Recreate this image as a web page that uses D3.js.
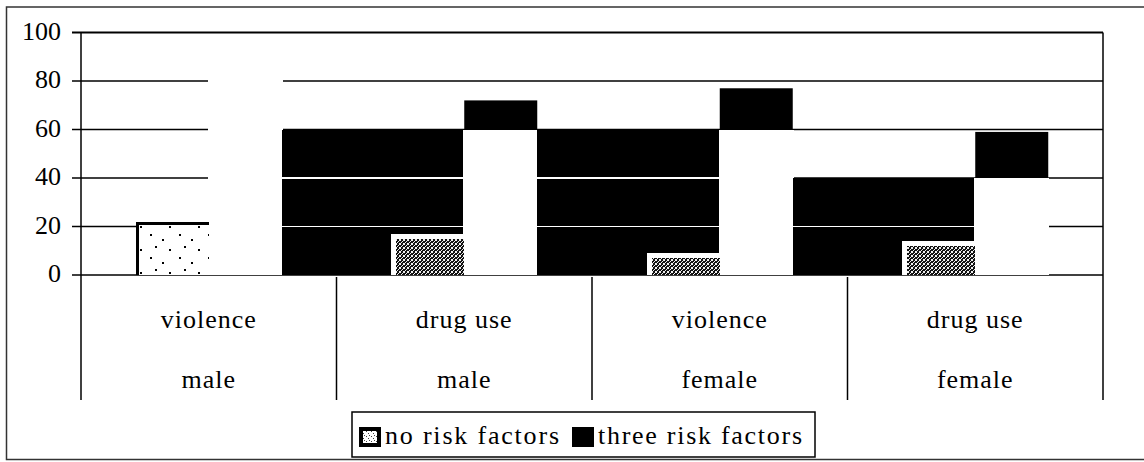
<!DOCTYPE html>
<html>
<head>
<meta charset="utf-8">
<script src="https://cdn.jsdelivr.net/npm/d3@7/dist/d3.min.js"></script>
</head>
<body style="margin:0">
<svg id="chart" width="1144" height="462"></svg>
<script>
// chart data
var risk_type = ['violence', 'drug use', 'violence', 'drug use'];
var sex = ['male', 'male', 'female', 'female'];
var series_names = ['no risk factors', 'three risk factors'];
var no_risk = [22, 17, 9, 14];
var three_risk = [89, 72, 77, 59];
// the scan inverted a block of each group up to this level
var scan_invert_level = [89, 60, 60, 40];
var y_ticks = [0, 20, 40, 60, 80, 100];

var plot_left = 81,
  plot_right = 1103,
  plot_top = 32.5,
  plot_bottom = 275,
  axis_bottom = 400,
  font_name = 'Liberation Serif';

var svg = d3.select('#chart');

// patterns for the dotted "no risk" fill
var defs = svg.append('defs');
function add_pattern(id, w, h, bg, fg, dots, size) {
  var p = defs
    .append('pattern')
    .attr('id', id)
    .attr('patternUnits', 'userSpaceOnUse')
    .attr('width', w)
    .attr('height', h);
  p.append('rect').attr('width', w).attr('height', h).attr('fill', bg);
  dots.forEach(function(q) {
    p.append('rect').attr('x', q[0]).attr('y', q[1]).attr('width', size).attr('height', size).attr('fill', fg);
  });
}
add_pattern('dense', 4, 4, '#111', '#eee', [[0, 0], [2, 1], [1, 2], [3, 3], [3, 0], [0, 3]], 1);
add_pattern('sparse', 29, 23, '#fff', '#000', [[5, 4], [17, 9], [10, 16], [24, 19]], 2);
add_pattern('light', 5, 5, '#fff', '#444', [[1, 1], [3, 3], [4, 0]], 1);

// outer frame
svg
  .append('rect')
  .attr('x', 6.5)
  .attr('y', 7)
  .attr('width', 1200)
  .attr('height', 452.5)
  .attr('fill', 'none')
  .attr('stroke', '#333')
  .attr('stroke-width', 1.5);

// scales
var x0 = d3
  .scaleBand()
  .domain(d3.range(risk_type.length))
  .range([plot_left, plot_right])
  .padding(0);

var x1 = d3
  .scaleBand()
  .domain(series_names)
  .range([0, x0.bandwidth()])
  .paddingInner(0)
  .paddingOuter(0.75);

var y = d3
  .scaleLinear()
  .domain([0, 100])
  .range([plot_bottom, plot_top]);

function three_left(i) {
  return x0(i) + x1(series_names[1]);
}
function three_right(i) {
  return three_left(i) + x1.bandwidth();
}
function no_left(i) {
  return x0(i) + x1(series_names[0]);
}
function invert_x0(i) {
  return i === 0 ? three_left(0) : three_right(i - 1);
}

// gridlines
svg
  .append('g')
  .selectAll('line')
  .data(y_ticks)
  .enter()
  .append('line')
  .attr('x1', plot_left - 9)
  .attr('x2', plot_right)
  .attr('y1', function(d) { return y(d); })
  .attr('y2', function(d) { return y(d); })
  .attr('stroke', '#000')
  .attr('stroke-width', function(d) { return d === 100 ? 2 : 1.5; });

// three risk factor bars
svg
  .append('g')
  .selectAll('rect')
  .data(three_risk)
  .enter()
  .append('rect')
  .attr('x', function(d, i) { return three_left(i); })
  .attr('width', x1.bandwidth())
  .attr('y', function(d) { return y(d); })
  .attr('height', function(d) { return y(0) - y(d); })
  .attr('fill', '#000');

// scan inversion: black block, white gridlines, white bar part
var inv = svg.append('g').attr('shape-rendering', 'crispEdges');
scan_invert_level.forEach(function(level, i) {
  var xa = invert_x0(i),
    xb = three_right(i);
  inv
    .append('rect')
    .attr('x', xa)
    .attr('width', xb - xa)
    .attr('y', y(level))
    .attr('height', y(0) - y(level))
    .attr('fill', '#000');
  y_ticks
    .filter(function(t) { return t > 0 && t < level; })
    .forEach(function(t) {
      inv
        .append('line')
        .attr('x1', xa)
        .attr('x2', xb)
        .attr('y1', y(t))
        .attr('y2', y(t))
        .attr('stroke', '#fff')
        .attr('stroke-width', 1.5);
    });
  var top = Math.min(level, three_risk[i]);
  var pad_top = top >= three_risk[i] ? 1.5 : 0;
  inv
    .append('rect')
    .attr('x', three_left(i) - 1)
    .attr('width', x1.bandwidth() + 2)
    .attr('y', y(top) - pad_top)
    .attr('height', y(0) - y(top) + pad_top)
    .attr('fill', '#fff');
});

// no risk factor bars
var no_bars = svg
  .append('g')
  .attr('shape-rendering', 'crispEdges')
  .selectAll('g')
  .data(no_risk)
  .enter()
  .append('g');

function in_shadow(d, i) {
  return no_left(i) >= invert_x0(i) && d < scan_invert_level[i];
}

no_bars
  .append('rect')
  .attr('x', function(d, i) { return no_left(i); })
  .attr('width', x1.bandwidth())
  .attr('y', function(d) { return y(d); })
  .attr('height', function(d) { return y(0) - y(d); })
  .attr('fill', function(d, i) { return in_shadow(d, i) ? '#fff' : '#000'; });

no_bars
  .append('rect')
  .attr('x', function(d, i) { return no_left(i) + (in_shadow(d, i) ? 5 : 3); })
  .attr('width', function(d, i) { return x1.bandwidth() - (in_shadow(d, i) ? 5 : 3); })
  .attr('y', function(d, i) { return y(d) + (in_shadow(d, i) ? 5 : 3); })
  .attr('height', function(d, i) { return y(0) - y(d) - (in_shadow(d, i) ? 5 : 3); })
  .attr('fill', function(d, i) { return in_shadow(d, i) ? 'url(#dense)' : 'url(#sparse)'; });

// y axis labels
svg
  .append('g')
  .selectAll('text')
  .data(y_ticks)
  .enter()
  .append('text')
  .attr('x', plot_left - 20)
  .attr('y', function(d) { return y(d) + 7; })
  .attr('text-anchor', 'end')
  .attr('font-family', font_name)
  .attr('font-size', 26)
  .text(function(d) { return d; });

// axis frame lines
[plot_left, plot_right].forEach(function(px) {
  svg
    .append('line')
    .attr('x1', px)
    .attr('x2', px)
    .attr('y1', plot_top)
    .attr('y2', axis_bottom)
    .attr('stroke', '#000')
    .attr('stroke-width', 1.5);
});

// category separators
svg
  .append('g')
  .selectAll('line')
  .data(d3.range(1, risk_type.length))
  .enter()
  .append('line')
  .attr('x1', function(d) { return x0(d); })
  .attr('x2', function(d) { return x0(d); })
  .attr('y1', plot_bottom + 2)
  .attr('y2', axis_bottom)
  .attr('stroke', '#000')
  .attr('stroke-width', 1.5);

// category labels (two rows)
[[risk_type, 328], [sex, 388]].forEach(function(row) {
  svg
    .append('g')
    .selectAll('text')
    .data(row[0])
    .enter()
    .append('text')
    .attr('x', function(d, i) { return x0(i) + x0.bandwidth() / 2; })
    .attr('y', row[1])
    .attr('text-anchor', 'middle')
    .attr('font-family', font_name)
    .attr('font-size', 26)
    .attr('letter-spacing', 1)
    .text(function(d) { return d; });
});

// legend
var legend = svg.append('g');
legend
  .append('rect')
  .attr('x', 352)
  .attr('y', 412)
  .attr('width', 463)
  .attr('height', 45)
  .attr('fill', '#fff')
  .attr('stroke', '#000')
  .attr('stroke-width', 1.5);

var legend_items = [
  { name: series_names[0], sx: 359, tx: 385, tw: 174 },
  { name: series_names[1], sx: 572, tx: 598, tw: 204 }
];
legend_items.forEach(function(item, k) {
  legend.append('rect').attr('x', item.sx).attr('y', 427).attr('width', 22).attr('height', 20).attr('fill', '#000');
  if (k === 0) {
    legend.append('rect').attr('x', item.sx + 4).attr('y', 431).attr('width', 14).attr('height', 12).attr('fill', 'url(#light)');
  }
  legend
    .append('text')
    .attr('x', item.tx)
    .attr('y', 444)
    .attr('font-family', font_name)
    .attr('font-size', 26)
    .attr('textLength', item.tw)
    .attr('lengthAdjust', 'spacing')
    .text(item.name);
});
</script>
</body>
</html>
